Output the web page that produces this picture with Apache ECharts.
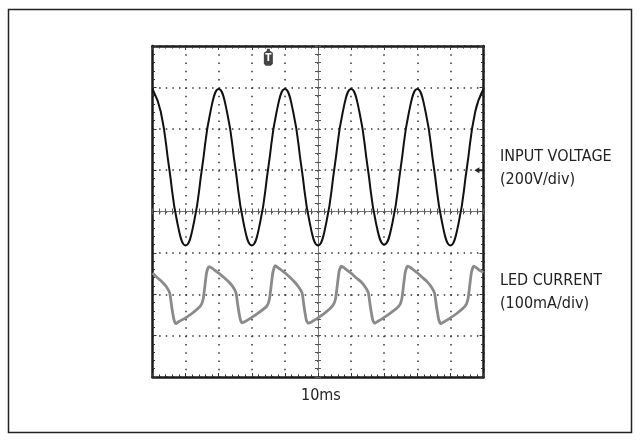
<!DOCTYPE html>
<html>
<head>
<meta charset="utf-8">
<script src="https://cdn.jsdelivr.net/npm/echarts@6/dist/echarts.min.js"></script>
<style>
  html, body { margin: 0; padding: 0; background: #fff; }
  #scope { width: 640px; height: 441px; }
</style>
</head>
<body>
<div id="scope"></div>
<script>
  // time in ms (10ms/div, 0 = screen centre), levels in divisions from screen centre
  let voltTime = [-50, -47.5, -45, -42.5, -40, -37.5, -35, -32.5, -30, -27.5, -25, -22.5, -20, -17.5, -15, -12.5, -10, -7.5, -5, -2.5,
    0, 2.5, 5, 7.5, 10, 12.5, 15, 17.5, 20, 22.5, 25, 27.5, 30, 32.5, 35, 37.5, 40, 42.5, 45, 47.5, 50]
  let voltLevel = [2.96, 2.41, 1.07, -0.27, -0.82, -0.27, 1.07, 2.41, 2.96, 2.41, 1.07, -0.27, -0.82, -0.27, 1.07, 2.41, 2.96, 2.41, 1.07, -0.27,
    -0.82, -0.27, 1.07, 2.41, 2.96, 2.41, 1.07, -0.27, -0.80, -0.27, 1.07, 2.41, 2.96, 2.41, 1.07, -0.27, -0.82, -0.27, 1.07, 2.41, 2.96]

  let currTime = [
    -50, -48.5, -47, -45.8, -44.8, -44.2, -43.5, -42.9, -42, -40, -38, -35.5, -34.7, -34.1, -33.6, -32.9, -32, -31,
    -30, -28.5, -27, -25.8, -24.8, -24.2, -23.5, -22.9, -22, -20, -18, -15.5, -14.7, -14.1, -13.6, -12.9, -12, -11,
    -10, -8.5, -7, -5.8, -4.8, -4.2, -3.5, -2.9, -2, 0, 2, 4.5, 5.3, 5.9, 6.4, 7.1, 8, 9,
    10, 11.5, 13, 14.2, 15.2, 15.8, 16.5, 17.1, 18, 20, 22, 24.5, 25.3, 25.9, 26.4, 27.1, 28, 29,
    30, 31.5, 33, 34.2, 35.2, 35.8, 36.5, 37.1, 38, 40, 42, 44.5, 45.3, 45.9, 46.4, 47.1, 48, 49,
    50]
  let currLevel = [
    -1.49, -1.60, -1.71, -1.82, -1.97, -2.30, -2.62, -2.71, -2.66, -2.57, -2.46, -2.28, -2.12, -1.75, -1.45, -1.33, -1.37, -1.43,
    -1.49, -1.59, -1.70, -1.81, -1.96, -2.28, -2.60, -2.69, -2.66, -2.56, -2.45, -2.29, -2.13, -1.76, -1.46, -1.31, -1.36, -1.42,
    -1.48, -1.59, -1.71, -1.83, -1.97, -2.31, -2.63, -2.70, -2.67, -2.57, -2.46, -2.27, -2.11, -1.74, -1.44, -1.32, -1.37, -1.43,
    -1.49, -1.60, -1.70, -1.82, -1.96, -2.29, -2.61, -2.70, -2.66, -2.56, -2.45, -2.28, -2.12, -1.75, -1.45, -1.32, -1.36, -1.42,
    -1.48, -1.59, -1.70, -1.82, -1.97, -2.30, -2.62, -2.71, -2.67, -2.57, -2.46, -2.28, -2.12, -1.75, -1.45, -1.32, -1.37, -1.43,
    -1.47]

  let trigMark = [-15, 3.73]
  let gndMark = [48.6, 1]

  let font = '"Liberation Sans Narrow", "DejaVu Sans Condensed", sans-serif'

  function pairs(xs, ys){
    let out = []
    for(let i = 0; i < xs.length; i++){
      out.push([xs[i], ys[i]])
    }
    return out
  }

  // one axis for the screen frame or the centre cross
  function scaleAxis(dim, position, onZero, inside, showLine, split){
    let isX = dim == 'x'
    return {
      type: 'value',
      position: position,
      min: isX ? -50 : -4,
      max: isX ? 50 : 4,
      interval: isX ? 10 : 1,
      axisLine: {
        show: showLine,
        onZero: onZero,
        onZeroAxisIndex: 0,
        lineStyle: onZero ? {color: '#777', width: 1} : {color: '#1a1a1a', width: 2.5}
      },
      axisTick: {
        show: true,
        inside: inside,
        length: onZero ? 3 : 4,
        lineStyle: {color: onZero ? '#555' : '#333', width: 1}
      },
      minorTick: {
        show: true,
        splitNumber: 5,
        length: onZero ? 3 : 2.5,
        lineStyle: {color: onZero ? '#555' : '#333', width: 1}
      },
      axisLabel: {show: false},
      splitLine: {
        show: split,
        lineStyle: {
          color: '#333',
          width: 1.5,
          type: isX ? [1.5, 6.775] : [1.5, 5.12]
        }
      }
    }
  }

  let chart = echarts.init(document.getElementById('scope'))
  let option = {
    animation: false,
    backgroundColor: '#fff',
    textStyle: {fontFamily: font},
    grid: {
      left: 152.5,
      top: 46,
      width: 331,
      height: 331,
      containLabel: false
    },
    xAxis: [
      scaleAxis('x', 'bottom', false, true, true, true),
      scaleAxis('x', 'top', false, true, true, false),
      scaleAxis('x', 'bottom', true, true, true, false),
      scaleAxis('x', 'bottom', true, false, false, false)
    ],
    yAxis: [
      scaleAxis('y', 'left', false, true, true, true),
      scaleAxis('y', 'right', false, true, true, false),
      scaleAxis('y', 'left', true, true, true, false),
      scaleAxis('y', 'left', true, false, false, false)
    ],
    graphic: [
      {
        type: 'rect',
        shape: {x: 8.5, y: 9.5, width: 623, height: 423},
        style: {fill: 'none', stroke: '#222', lineWidth: 1.5},
        z: -1
      },
      {
        type: 'text',
        left: 500,
        top: 145,
        style: {text: 'INPUT VOLTAGE\n(200V/div)', font: '16px ' + font, lineHeight: 23, fill: '#222'}
      },
      {
        type: 'text',
        left: 500,
        top: 269,
        style: {text: 'LED CURRENT\n(100mA/div)', font: '16px ' + font, lineHeight: 23, fill: '#222'}
      },
      {
        type: 'text',
        left: 301,
        top: 388,
        style: {text: '10ms', font: '16px ' + font, fill: '#222'}
      }
    ],
    series: [
      {
        name: 'LED CURRENT',
        type: 'line',
        xAxisIndex: 0,
        yAxisIndex: 0,
        data: pairs(currTime, currLevel),
        showSymbol: false,
        smooth: 0.2,
        lineStyle: {color: '#8a8a8a', width: 2.8},
        z: 3
      },
      {
        name: 'INPUT VOLTAGE',
        type: 'line',
        xAxisIndex: 0,
        yAxisIndex: 0,
        data: pairs(voltTime, voltLevel),
        showSymbol: false,
        smooth: 0.5,
        lineStyle: {color: '#111', width: 2},
        z: 4,
        markPoint: {
          silent: true,
          data: [
            {
              coord: trigMark,
              symbol: 'path://M3,0 L6,0 L6,2 L9,4 L9,15 L7,17 L2,17 L0,15 L0,4 L3,2 Z',
              symbolSize: [9, 17],
              itemStyle: {color: '#444'},
              label: {show: true, formatter: 'T', color: '#fff', fontSize: 10, fontWeight: 'bold', offset: [0, 1]}
            },
            {
              coord: gndMark,
              symbol: 'path://M0,3 L5,0 L5,2 L9,2 L9,4 L5,4 L5,6 Z',
              symbolSize: [9, 6],
              itemStyle: {color: '#222'},
              label: {show: false}
            }
          ]
        }
      }
    ]
  }
  chart.setOption(option)
  window.onresize = function () {
    chart.resize()
  }
</script>
</body>
</html>
